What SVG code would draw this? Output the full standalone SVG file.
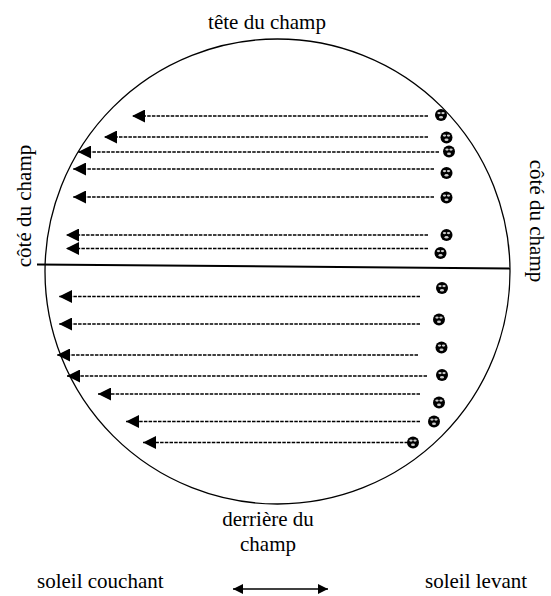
<svg xmlns="http://www.w3.org/2000/svg" width="551" height="596" viewBox="0 0 551 596">
<style>
text{font-family:"Liberation Serif","Times New Roman",serif;font-size:21px;fill:#000}
.row{stroke:#000;stroke-width:1.5;stroke-dasharray:3.5 1.2;fill:none;marker-end:url(#ah)}
.dot circle{fill:#111}
.hl{fill:#ccc}
</style>
<defs>
<marker id="ah" markerUnits="userSpaceOnUse" markerWidth="13" markerHeight="13" refX="13" refY="6.5" orient="auto" viewBox="0 0 13 13"><path d="M0,0 L13,6.5 L0,13 z" fill="#000"/></marker>
<marker id="dh" markerUnits="userSpaceOnUse" markerWidth="10" markerHeight="10" refX="10" refY="5" orient="auto-start-reverse" viewBox="0 0 10 10"><path d="M0,0 L10,5 L0,10 z" fill="#000"/></marker>
<g id="seed"><circle r="6"/><ellipse class="hl" cx="-2" cy="-1.9" rx="1.7" ry="1.1"/><ellipse class="hl" cx="2" cy="-1.9" rx="1.7" ry="1.1"/><ellipse class="hl" cx="0" cy="2.3" rx="2" ry="1.2"/></g>
</defs>
<g id="field"><circle cx="277.5" cy="271.5" r="232.5" fill="none" stroke="#000" stroke-width="1.3"/></g>
<g id="divider"><line x1="37" y1="264.5" x2="510" y2="268.5" stroke="#000" stroke-width="2"/></g>
<g id="labels">
<text x="267" y="29" text-anchor="middle">tête du champ</text>
<text transform="translate(31,206) rotate(-90)" text-anchor="middle">côté du champ</text>
<text transform="translate(530,221) rotate(90)" text-anchor="middle">côté du champ</text>
<text x="268" y="526" text-anchor="middle">derrière du</text>
<text x="268" y="551" text-anchor="middle">champ</text>
<text x="37" y="588">soleil couchant</text>
<text x="425" y="588">soleil levant</text>
</g>
<g id="connectors">
<line class="row" x1="428" y1="116" x2="132" y2="116"/>
<line class="row" x1="428" y1="137" x2="104" y2="137"/>
<line class="row" x1="439" y1="152" x2="78" y2="152"/>
<line class="row" x1="434" y1="169" x2="73" y2="169"/>
<line class="row" x1="434" y1="197" x2="73" y2="197"/>
<line class="row" x1="428" y1="235" x2="66" y2="235"/>
<line class="row" x1="428" y1="248.5" x2="66" y2="248.5"/>
<line class="row" x1="420" y1="296.5" x2="59" y2="296.5"/>
<line class="row" x1="420" y1="324" x2="59" y2="324"/>
<line class="row" x1="418" y1="355" x2="57" y2="355"/>
<line class="row" x1="427" y1="376" x2="67" y2="376"/>
<line class="row" x1="420" y1="394" x2="98" y2="394"/>
<line class="row" x1="420" y1="421.5" x2="126" y2="421.5"/>
<line class="row" x1="408" y1="442.5" x2="143" y2="442.5"/>
<line x1="233" y1="589" x2="328" y2="589" stroke="#000" stroke-width="1.3" marker-start="url(#dh)" marker-end="url(#dh)"/>
</g>
<g id="seeds" class="dot">
<use href="#seed" x="441" y="115"/>
<use href="#seed" x="446.5" y="137.5"/>
<use href="#seed" x="449" y="151.5"/>
<use href="#seed" x="446.5" y="173"/>
<use href="#seed" x="446.5" y="197.5"/>
<use href="#seed" x="446.5" y="235"/>
<use href="#seed" x="440.5" y="253"/>
<use href="#seed" x="442" y="288"/>
<use href="#seed" x="439" y="319.5"/>
<use href="#seed" x="441.5" y="347.5"/>
<use href="#seed" x="442" y="375"/>
<use href="#seed" x="439" y="402.5"/>
<use href="#seed" x="434" y="421.5"/>
<use href="#seed" x="413" y="442.5"/>
</g>
</svg>
